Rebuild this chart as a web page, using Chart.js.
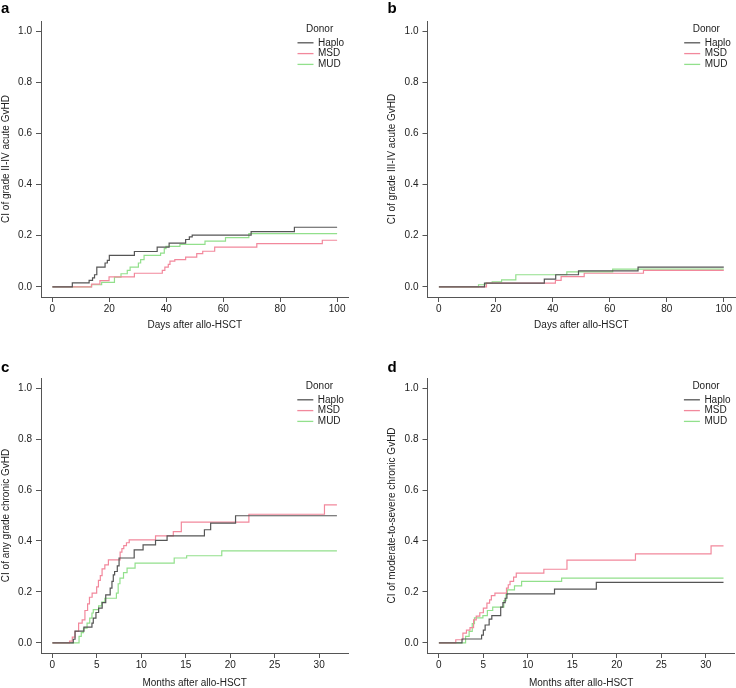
<!DOCTYPE html>
<html>
<head>
<meta charset="utf-8">
<script src="https://cdn.jsdelivr.net/npm/chart.js@4.4.1/dist/chart.umd.min.js"></script>
<style>
html, body { margin: 0; padding: 0; background: #fff; overflow: hidden; }
#wrap { position: relative; width: 736px; height: 688px; }
canvas { position: absolute; }
</style>
</head>
<body>
<div id="wrap">
  <canvas id="panel_a" width="368" height="344" style="left:0;top:0"></canvas>
  <canvas id="panel_b" width="368" height="344" style="left:368px;top:0"></canvas>
  <canvas id="panel_c" width="368" height="344" style="left:0;top:344px"></canvas>
  <canvas id="panel_d" width="368" height="344" style="left:368px;top:344px"></canvas>
</div>
<script>
var groups = ["Haplo", "MSD", "MUD"];
var groupColors = ["#555555", "#f2889c", "#92e08c"];
var yTicks = [0, 0.2, 0.4, 0.6, 0.8, 1.0];
var dayTicks = [0, 20, 40, 60, 80, 100];
var monthTicks = [0, 5, 10, 15, 20, 25, 30];

// a - grade II-IV acute GvHD (days)
var a_haplo_t = [0, 7, 12.9, 14.1, 14.8, 15.6, 18.5, 19.3, 20, 28.8, 36.8, 41, 46.8, 48.1, 49.1, 69.8, 85, 100];
var a_haplo_v = [0, 0.015, 0.025, 0.035, 0.047, 0.077, 0.093, 0.103, 0.123, 0.138, 0.155, 0.171, 0.185, 0.195, 0.202, 0.216, 0.233, 0.233];
var a_msd_t = [0, 13.8, 16.7, 19.9, 28.8, 38.6, 39.5, 40.7, 41.3, 43, 46.8, 50.7, 52.8, 57, 71.8, 94.8, 100];
var a_msd_v = [0, 0.01, 0.024, 0.039, 0.053, 0.064, 0.077, 0.088, 0.1, 0.106, 0.116, 0.13, 0.139, 0.155, 0.169, 0.182, 0.182];
var a_mud_t = [0, 13.7, 17.3, 21.8, 24.1, 26.3, 27.3, 30.2, 31, 32.2, 38, 39.3, 39.9, 44.8, 53.6, 60.8, 69, 100];
var a_mud_v = [0, 0.008, 0.017, 0.038, 0.051, 0.064, 0.077, 0.093, 0.106, 0.123, 0.132, 0.149, 0.158, 0.166, 0.179, 0.192, 0.208, 0.208];

// b - grade III-IV acute GvHD (days)
var b_haplo_t = [0, 16, 37, 41, 49, 69.9, 100];
var b_haplo_v = [0, 0.014, 0.03, 0.047, 0.062, 0.077, 0.077];
var b_msd_t = [0, 16.7, 40.9, 42.9, 51, 71.8, 100];
var b_msd_v = [0, 0.014, 0.025, 0.04, 0.053, 0.064, 0.064];
var b_mud_t = [0, 13.9, 16.5, 18.7, 22, 27, 44.9, 61, 100];
var b_mud_v = [0, 0.008, 0.014, 0.019, 0.027, 0.047, 0.058, 0.069, 0.069];

// c - any grade chronic GvHD (months)
var c_haplo_t = [0, 2.35, 2.55, 3.55, 4.45, 4.6, 4.9, 5.2, 5.6, 6.0, 6.5, 6.7, 6.85, 7.0, 7.3, 7.5, 9.2, 10.2, 11.6, 12.9, 17.1, 17.8, 20.6, 32];
var c_haplo_v = [0, 0.014, 0.046, 0.062, 0.077, 0.097, 0.119, 0.136, 0.158, 0.188, 0.215, 0.241, 0.267, 0.28, 0.302, 0.333, 0.365, 0.385, 0.402, 0.42, 0.444, 0.47, 0.499, 0.499];
var c_msd_t = [0, 1.93, 2.24, 2.54, 2.95, 3.35, 3.66, 3.96, 4.17, 4.47, 4.98, 5.18, 5.39, 5.59, 5.9, 6.3, 7.62, 7.82, 8.03, 8.33, 8.64, 11.6, 13.6, 14.5, 22.1, 30.6, 32];
var c_msd_v = [0, 0.007, 0.022, 0.045, 0.077, 0.09, 0.127, 0.153, 0.179, 0.195, 0.22, 0.245, 0.264, 0.29, 0.306, 0.326, 0.356, 0.37, 0.382, 0.393, 0.404, 0.42, 0.437, 0.474, 0.505, 0.542, 0.542];
var c_mud_t = [0, 3.0, 3.25, 3.5, 3.9, 4.2, 4.45, 4.6, 5.2, 5.55, 5.9, 7.2, 7.4, 7.6, 8.0, 8.4, 9.3, 13.7, 15.1, 19.05, 32];
var c_mud_v = [0, 0.025, 0.04, 0.058, 0.077, 0.097, 0.117, 0.13, 0.145, 0.16, 0.175, 0.195, 0.232, 0.254, 0.276, 0.293, 0.313, 0.333, 0.342, 0.361, 0.361];

// d - moderate-to-severe chronic GvHD (months)
var d_haplo_t = [0, 2.6, 4.8, 5.0, 5.2, 5.65, 5.95, 6.95, 7.2, 7.45, 7.65, 13.0, 17.7, 32];
var d_haplo_v = [0, 0.015, 0.03, 0.05, 0.07, 0.093, 0.107, 0.14, 0.158, 0.175, 0.192, 0.211, 0.237, 0.237];
var d_msd_t = [0, 1.9, 2.7, 3.1, 3.5, 3.9, 4.2, 4.6, 5.0, 5.4, 5.7, 5.9, 6.3, 7.6, 7.8, 8.0, 8.4, 8.7, 11.8, 14.4, 22.1, 30.6, 32];
var d_msd_v = [0, 0.012, 0.038, 0.05, 0.06, 0.09, 0.105, 0.118, 0.136, 0.156, 0.169, 0.185, 0.195, 0.215, 0.228, 0.241, 0.258, 0.274, 0.289, 0.325, 0.349, 0.381, 0.381];
var d_mud_t = [0, 3.0, 3.4, 3.75, 4.0, 4.95, 5.45, 6.05, 7.3, 7.55, 7.7, 8.5, 9.3, 13.8, 32];
var d_mud_v = [0, 0.025, 0.045, 0.075, 0.098, 0.107, 0.127, 0.14, 0.166, 0.19, 0.208, 0.224, 0.241, 0.254, 0.254];

var FONT = "'Liberation Sans', Arial, sans-serif";
Chart.defaults.font.family = FONT;
Chart.defaults.font.size = 10;
Chart.defaults.color = "#222";

function points(t, v) {
    return t.map(function(x, i) { return {x: x, y: v[i]}; });
}

// legend "Donor" + panel letter
var donorLegend = {
    id: "donorLegend",
    afterDraw: function(chart, args, opts) {
        var ctx = chart.ctx, area = chart.chartArea;
        var x0 = area.right - 51;
        ctx.save();
        ctx.font = "10px " + FONT;
        ctx.fillStyle = "#222";
        ctx.textBaseline = "middle";
        ctx.textAlign = "left";
        ctx.fillText("Donor", area.right - 42.5, area.top + 8);
        chart.data.datasets.forEach(function(ds, i) {
            var y = area.top + 21.8 + i * 10.8;
            ctx.strokeStyle = ds.borderColor;
            ctx.lineWidth = 1.3;
            ctx.beginPath();
            ctx.moveTo(x0, y);
            ctx.lineTo(x0 + 16, y);
            ctx.stroke();
            ctx.fillText(ds.label, x0 + 20.5, y);
        });
        ctx.font = "bold 15px " + FONT;
        ctx.fillStyle = "#000";
        ctx.textBaseline = "alphabetic";
        ctx.fillText(opts.letter, area.left - 40, opts.letterY);
        ctx.restore();
    }
};

function makePanel(id, letter, box, yTitle, xTitle, xTicks, xMax, series) {
    var pad = (xMax - 0) * 0.04;
    var datasets = series.map(function(s, i) {
        return {
            label: groups[i],
            data: points(s[0], s[1]),
            borderColor: groupColors[i],
            borderWidth: 1.2,
            stepped: "before",
            pointRadius: 0,
            fill: false
        };
    });
    return new Chart(document.getElementById(id), {
        type: "line",
        data: { datasets: datasets },
        plugins: [donorLegend],
        options: {
            responsive: false,
            animation: false,
            layout: { padding: { left: box.left, top: box.top, right: box.right, bottom: 0 } },
            plugins: {
                legend: { display: false },
                tooltip: { enabled: false },
                donorLegend: { letter: letter, letterY: box.letterY }
            },
            scales: {
                x: {
                    type: "linear",
                    min: -pad,
                    max: xMax + pad,
                    afterFit: function(scale) { scale.height = box.xh; },
                    afterBuildTicks: function(scale) {
                        scale.ticks = xTicks.map(function(v) { return {value: v}; });
                    },
                    ticks: { padding: 1, maxRotation: 0, autoSkip: false, color: "#222" },
                    grid: { display: true, drawOnChartArea: false, drawTicks: true, tickLength: 5, color: "#555" },
                    border: { display: true, color: "#555", width: 1 },
                    title: { display: true, text: xTitle, color: "#222", padding: { top: 0, bottom: box.xtPad } }
                },
                y: {
                    type: "linear",
                    min: -0.04,
                    max: 1.04,
                    afterFit: function(scale) { scale.width = 41; },
                    afterBuildTicks: function(scale) {
                        scale.ticks = yTicks.map(function(v) { return {value: v}; });
                    },
                    ticks: {
                        padding: 4,
                        color: "#222",
                        callback: function(v) { return Number(v).toFixed(1); }
                    },
                    grid: { display: true, drawOnChartArea: false, drawTicks: true, tickLength: 5, color: "#555" },
                    border: { display: true, color: "#555", width: 1 },
                    title: { display: true, text: yTitle, color: "#222", padding: { top: 0, bottom: 0 } }
                }
            }
        }
    });
}

var boxTopLeft = { left: 0, top: 21, right: 19.5, xh: 47, xtPad: 13, letterY: 13 };
var boxTopRight = { left: 18.5, top: 21, right: 0.8, xh: 47, xtPad: 13, letterY: 13 };
var boxBotLeft = { left: 0, top: 34, right: 19.7, xh: 35, xtPad: -1, letterY: 28 };
var boxBotRight = { left: 18.5, top: 34, right: 1.1, xh: 35, xtPad: -1, letterY: 28 };

makePanel("panel_a", "a", boxTopLeft, "CI of grade II-IV acute GvHD", "Days after allo-HSCT", dayTicks, 100,
    [[a_haplo_t, a_haplo_v], [a_msd_t, a_msd_v], [a_mud_t, a_mud_v]]);
makePanel("panel_b", "b", boxTopRight, "CI of grade III-IV acute GvHD", "Days after allo-HSCT", dayTicks, 100,
    [[b_haplo_t, b_haplo_v], [b_msd_t, b_msd_v], [b_mud_t, b_mud_v]]);
makePanel("panel_c", "c", boxBotLeft, "CI of any grade chronic GvHD", "Months after allo-HSCT", monthTicks, 32,
    [[c_haplo_t, c_haplo_v], [c_msd_t, c_msd_v], [c_mud_t, c_mud_v]]);
makePanel("panel_d", "d", boxBotRight, "CI of moderate-to-severe chronic GvHD", "Months after allo-HSCT", monthTicks, 32,
    [[d_haplo_t, d_haplo_v], [d_msd_t, d_msd_v], [d_mud_t, d_mud_v]]);
</script>
</body>
</html>
